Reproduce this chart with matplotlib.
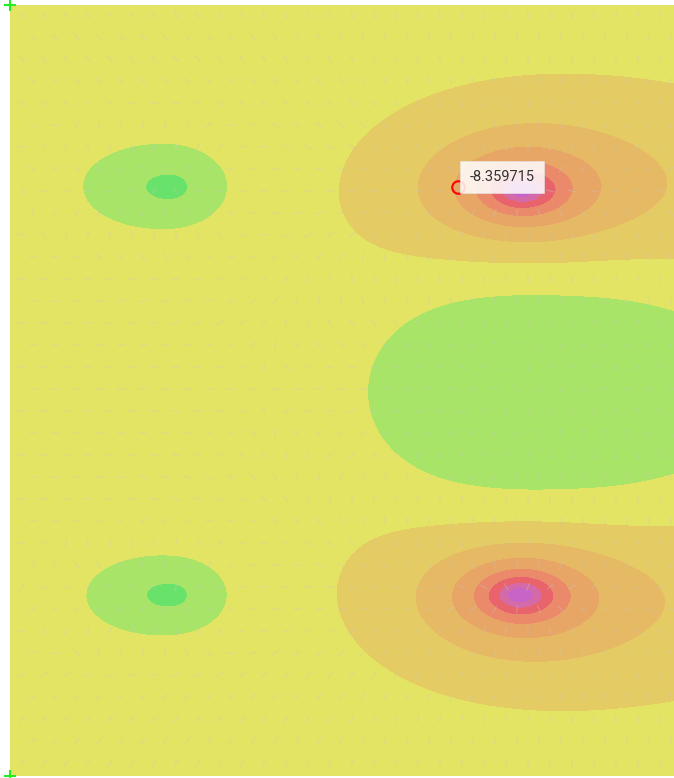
import numpy as np
import matplotlib.pyplot as plt
from matplotlib.collections import LineCollection

# plate size (mm), y measured downwards from the top edge
W, H = 664, 771

# concentrated sagging zones
SINK_X = [512, 510]
SINK_Y = [185, 590]
SINK_AMP = [-4.2, -4.2]
SINK_LX = [168, 168]
SINK_LY = [100, 100]

# broad sag running out to the right edge
TAIL_X = [710, 710]
TAIL_Y = [180, 595]
TAIL_AMP = [-2.15, -2.15]
TAIL_LX = [190, 190]
TAIL_LY = [115, 115]

# small uplift spots on the left (left / right half widths)
BUMP_X = [161, 161]
BUMP_Y = [182, 590]
BUMP_AMP = [4.3, 4.3]
BUMP_LX = [[66, 52], [64, 52]]
BUMP_LY = [35, 33]

# uplift ridge between the two sag zones
RIDGE_X = 532
RIDGE_Y = 387
RIDGE_AMP = 4.5
RIDGE_LX = [170, 210]   # left / right half widths
RIDGE_LY = 150

LEVELS = [-25.2, -19.6, -16.8, -14.0, -11.2, -8.4, -5.6, -2.8, 0.0, 2.8, 5.6]
COLORS = ['#c864c8', '#d46aa8', '#e8636c', '#ea8a6a', '#e7a566',
          '#e6b964', '#e4cb63', '#e4e464', '#a8e468', '#68e26a']

PROBE_X, PROBE_Y = 448, 182
PROBE_VALUE = -8.359715


def field(x, y):
    z = np.zeros_like(x, dtype=float)
    for x0, y0, a, lx, ly in zip(SINK_X, SINK_Y, SINK_AMP, SINK_LX, SINK_LY):
        d2 = ((x - x0) / lx) ** 2 + ((y - y0) / ly) ** 2
        z += a * np.log1p(1.0 / (d2 + 0.005))
    for x0, y0, a, lx, ly in zip(TAIL_X, TAIL_Y, TAIL_AMP, TAIL_LX, TAIL_LY):
        z += a * np.exp(-((x - x0) / lx) ** 2 - ((y - y0) / ly) ** 2)
    for x0, y0, a, (l0, l1), ly in zip(BUMP_X, BUMP_Y, BUMP_AMP, BUMP_LX, BUMP_LY):
        lx = np.where(x < x0, l0, l1)
        z += a * np.exp(-((x - x0) / lx) ** 2 - ((y - y0) / ly) ** 2)
    lx = np.where(x < RIDGE_X, RIDGE_LX[0], RIDGE_LX[1])
    d = np.sqrt(((x - RIDGE_X) / lx) ** 2 + ((y - RIDGE_Y) / RIDGE_LY) ** 2)
    z += RIDGE_AMP * np.exp(-d ** 3)
    return z


xs = np.linspace(0, W, 400)
ys = np.linspace(0, H, 460)
X, Y = np.meshgrid(xs, ys)
Z = field(X, Y)

fig = plt.figure(figsize=(6.74, 7.78), dpi=100)
ax = fig.add_axes([10 / 674, 2 / 778, 664 / 674, 771 / 778])
ax.contourf(X, Y, Z, levels=LEVELS, colors=COLORS, extend='both')

# short direction marks along the slope
gx = np.arange(12, W, 22)
gy = np.arange(10, H, 22)
GX, GY = np.meshgrid(gx, gy)
GX = GX + (np.arange(len(gy))[:, None] % 2) * 11
dzdy, dzdx = np.gradient(Z, ys, xs)
iy = np.clip(np.searchsorted(ys, GY), 0, len(ys) - 1)
ix = np.clip(np.searchsorted(xs, GX), 0, len(xs) - 1)
ang = np.arctan2(dzdy[iy, ix], dzdx[iy, ix]).ravel()
px, py = GX.ravel(), GY.ravel()
half = 4.0
segs = np.stack([np.c_[px - half * np.cos(ang), py - half * np.sin(ang)],
                 np.c_[px + half * np.cos(ang), py + half * np.sin(ang)]], axis=1)
ax.add_collection(LineCollection(segs, colors='#c9c9c0', linewidths=0.9, alpha=0.35))

ax.set_xlim(0, W)
ax.set_ylim(H, 0)
ax.axis('off')

# corner markers
ax.plot([0, 0], [0, H], '+', color='#22ee22', ms=8, mew=1.5, clip_on=False)

# probe and its readout
ax.plot(PROBE_X, PROBE_Y, 'o', mfc='none', mec='red', ms=9, mew=1.5)
ax.text(PROBE_X + 44, PROBE_Y - 10, f"{PROBE_VALUE:.6f}", fontsize=10.5,
        family='Roboto', color='#333333', ha='center', va='center',
        bbox=dict(boxstyle='square,pad=0.65', fc='white', ec='#e6e6e6', lw=0.5, alpha=0.85))

fig.savefig('out.png', dpi=100)
